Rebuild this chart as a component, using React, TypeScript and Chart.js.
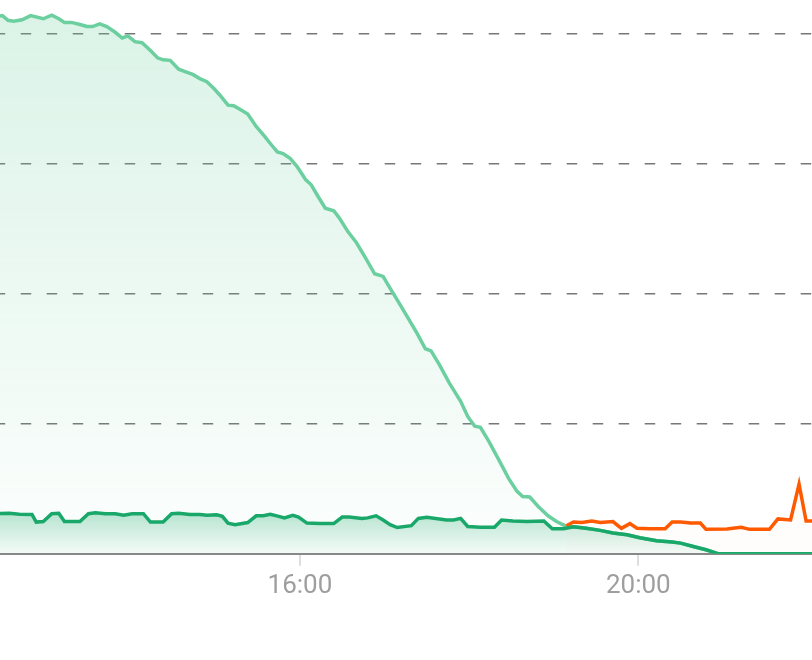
import React, { useEffect, useRef } from "react";
import { Chart, registerables } from "chart.js";

Chart.register(...registerables);

// ---- data ----
const solarTimes = [
  "12:24", "12:29", "12:33", "12:37", "12:43", "12:49", "12:58", "13:04", "13:09", "13:13",
  "13:18", "13:24", "13:29", "13:33", "13:38", "13:43", "13:49", "13:54", "13:58", "14:03",
  "14:08", "14:14", "14:19", "14:23", "14:28", "14:34", "14:40", "14:44", "14:49", "14:54",
  "14:59", "15:03", "15:09", "15:13", "15:18", "15:23", "15:29", "15:35", "15:40", "15:44",
  "15:48", "15:53", "15:58", "16:04", "16:08", "16:13", "16:18", "16:24", "16:28", "16:34",
  "16:40", "16:46", "16:53", "16:59", "17:04", "17:09", "17:16", "17:23", "17:29", "17:33",
  "17:39", "17:46", "17:54", "17:59", "18:04", "18:08", "18:14", "18:21", "18:28", "18:34",
  "18:38", "18:43", "18:49", "18:56", "19:02", "19:08", "19:14", "19:23", "19:33", "19:42",
  "19:52", "20:01", "20:13", "20:24", "20:30", "20:39", "20:48", "20:57", "22:10",
];
const solarValues = [
  103.2, 103.4, 102.5, 102.3, 102.6, 103.4, 102.8, 103.5, 102.8, 102.1,
  102.1, 101.7, 101.3, 101.3, 101.8, 101.3, 100.2, 99.1, 99.5, 98.4,
  98.2, 96.7, 95.3, 94.9, 94.8, 93.1, 92.5, 92.1, 91.3, 90.7,
  89.4, 88.2, 86.2, 86.1, 85.3, 84.5, 82.1, 80.2, 78.5, 77.2,
  76.9, 76.0, 74.4, 71.9, 70.9, 68.6, 66.4, 65.9, 64.5, 61.9,
  59.8, 57.1, 53.8, 53.3, 51.0, 48.8, 45.6, 42.4, 39.4, 39.0,
  36.3, 32.8, 29.3, 26.4, 24.5, 24.3, 21.6, 18.1, 14.5, 12.0,
  11.0, 10.9, 9.1, 7.3, 6.2, 5.4, 5.2, 4.9, 4.5, 4.0,
  3.65, 3.1, 2.5, 2.25, 2.05, 1.4, 0.77, 0, 0,
];

const usedTimes = [
  "12:24", "12:34", "12:41", "12:50", "12:53", "12:58", "13:04", "13:09", "13:13", "13:24",
  "13:30", "13:35", "13:42", "13:49", "13:55", "14:01", "14:09", "14:14", "14:23", "14:29",
  "14:34", "14:42", "14:49", "14:54", "15:01", "15:05", "15:09", "15:14", "15:23", "15:29",
  "15:34", "15:39", "15:45", "15:49", "15:55", "15:59", "16:05", "16:14", "16:24", "16:30",
  "16:35", "16:44", "16:48", "16:54", "16:59", "17:04", "17:09", "17:19", "17:24", "17:30",
  "17:44", "17:49", "17:54", "17:59", "18:08", "18:18", "18:23", "18:31", "18:41", "18:53",
  "18:59", "19:07", "19:14", "19:23", "19:33", "19:42", "19:52", "20:01", "20:13", "20:24",
  "20:30", "20:39", "20:48", "20:57", "22:10",
];
const usedValues = [
  7.7, 7.8, 7.6, 7.55, 6.1, 6.2, 7.7, 7.8, 6.2, 6.2,
  7.7, 7.9, 7.7, 7.7, 7.4, 7.7, 7.7, 6.1, 6.1, 7.7,
  7.8, 7.55, 7.55, 7.4, 7.5, 7.2, 5.9, 5.6, 6.0, 7.3,
  7.3, 7.6, 7.2, 6.9, 7.4, 7.05, 5.9, 5.8, 5.8, 7.05,
  7.05, 6.8, 6.9, 7.3, 6.5, 5.6, 5.05, 5.4, 6.8, 7.0,
  6.5, 6.5, 6.8, 5.25, 5.1, 5.1, 6.5, 6.3, 6.2, 6.3,
  4.8, 4.8, 5.2, 4.9, 4.5, 4.0, 3.65, 3.1, 2.5, 2.25,
  2.05, 1.4, 0.77, 0, 0,
];

const gridTimes = [
  "19:09", "19:14", "19:20", "19:27", "19:33", "19:42", "19:48", "19:54", "19:59", "20:08",
  "20:19", "20:24", "20:30", "20:37", "20:44", "20:48", "21:03", "21:07", "21:13", "21:19",
  "21:33", "21:39", "21:48", "21:54", "21:59", "22:03", "22:09",
];
const gridValues = [
  5.4, 6.1, 6.0, 6.3, 6.0, 6.2, 4.9, 5.8, 4.9, 4.8,
  4.8, 6.1, 6.1, 5.9, 5.9, 4.7, 4.75, 4.9, 5.1, 4.7,
  4.7, 6.7, 6.5, 13.4, 6.3, 6.3, 6.3,
];

const xTickHours = [16, 20];
const yGridValues = [0, 25, 50, 75, 100];
const viewStartHour = 12.455;
const viewEndHour = 22.053;
const yMaxValue = 106.4;

const toHours = (t: string) => {
  const [h, m] = t.split(":").map(Number);
  return h + m / 60;
};
const toPoints = (times: string[], values: number[]) =>
  times.map((t, i) => ({ x: toHours(t), y: values[i] }));

export default function App() {
  const canvasRef = useRef<HTMLCanvasElement | null>(null);

  useEffect(() => {
    if (!canvasRef.current) return;

    const vertGradient = (stops: [number, string][], topValue?: number) => (ctx: any) => {
      const chart = ctx.chart;
      const area = chart.chartArea;
      if (!area) return "transparent";
      const top = topValue !== undefined ? chart.scales.y.getPixelForValue(topValue) : area.top;
      const g = chart.ctx.createLinearGradient(0, top, 0, area.bottom);
      stops.forEach(([o, c]) => g.addColorStop(o, c));
      return g;
    };

    const chart = new Chart(canvasRef.current, {
      type: "line",
      data: {
        datasets: [
          {
            label: "used",
            data: toPoints(usedTimes, usedValues),
            borderColor: "#19a86a",
            borderWidth: 3.5,
            pointRadius: 0,
            tension: 0,
            fill: "origin",
            backgroundColor: vertGradient(
              [
                [0, "rgba(25,168,106,0.3)"],
                [1, "rgba(25,168,106,0.03)"],
              ],
              8
            ),
            order: 0,
          },
          {
            label: "grid",
            data: toPoints(gridTimes, gridValues),
            borderColor: "#ff5a00",
            borderWidth: 3.5,
            pointRadius: 0,
            tension: 0,
            fill: "origin",
            backgroundColor: "rgba(255,90,0,0.012)",
            order: 1,
          },
          {
            label: "solar",
            data: toPoints(solarTimes, solarValues),
            borderColor: "#6ccf9f",
            borderWidth: 3.5,
            pointRadius: 0,
            tension: 0,
            fill: "origin",
            backgroundColor: vertGradient([
              [0, "rgba(108,207,159,0.25)"],
              [1, "rgba(108,207,159,0.02)"],
            ]),
            order: 2,
          },
        ],
      },
      options: {
        animation: false,
        responsive: true,
        maintainAspectRatio: false,
        layout: { padding: { left: 0, right: 0, top: 0, bottom: 53 } },
        plugins: {
          legend: { display: false },
          tooltip: { enabled: false },
        },
        scales: {
          x: {
            type: "linear",
            min: viewStartHour,
            max: viewEndHour,
            afterBuildTicks: (axis: any) => {
              axis.ticks = xTickHours.map((v) => ({ value: v }));
            },
            ticks: {
              callback: (v: any) => `${v}:00`,
              color: "#9e9e9e",
              font: { family: "Roboto", size: 26 },
              padding: 5,
              maxRotation: 0,
              autoSkip: false,
            },
            grid: {
              drawOnChartArea: false,
              drawTicks: true,
              tickLength: 12,
              color: "#dedede",
              lineWidth: 2,
            },
            border: { display: true, color: "#888888", width: 2 },
          },
          y: {
            min: 0,
            max: yMaxValue,
            afterBuildTicks: (axis: any) => {
              axis.ticks = yGridValues.map((v) => ({ value: v }));
            },
            ticks: { display: false },
            grid: {
              drawTicks: false,
              lineWidth: 1.5,
              color: (c: any) => (c.tick && c.tick.value === 0 ? "rgba(0,0,0,0)" : "#777777"),
            },
            border: { display: false, dash: [10.5, 15.5], dashOffset: 5.3 },
          },
        },
      },
    } as any);

    return () => chart.destroy();
  }, []);

  return (
    <div
      style={{
        position: "fixed",
        left: 0,
        top: 0,
        width: 812,
        height: 660,
        background: "#ffffff",
      }}
    >
      <canvas ref={canvasRef} />
    </div>
  );
}
